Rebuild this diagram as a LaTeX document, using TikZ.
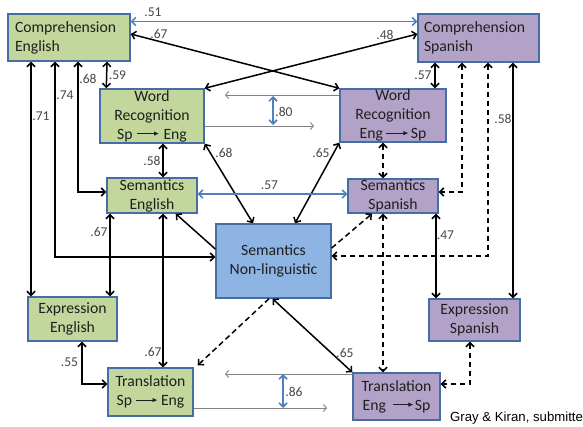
\documentclass[tikz,border=0pt]{standalone}
\usepackage{fontspec}
\setmainfont{Carlito}
\newfontfamily\creditfont{Liberation Sans}
\usetikzlibrary{arrows.meta}

\definecolor{engfill}{RGB}{195,214,155}
\definecolor{spafill}{RGB}{179,162,199}
\definecolor{nlfill}{RGB}{142,180,227}
\definecolor{boxline}{RGB}{68,110,165}
\definecolor{linkblue}{RGB}{79,129,189}
\definecolor{labelgray}{RGB}{70,70,70}
\definecolor{thingray}{RGB}{130,130,130}

% small direction arrow used inside the box titles
\newcommand\dirarrow[1]{\tikz[x=1pt,y=1pt,baseline=-5.5pt]\draw[line width=1pt,-{Latex[length=5pt,width=4.5pt]}] (0,0)--(#1,0);}

\tikzset{
  box/.style={draw=boxline, line width=1.4pt, inner sep=0pt, align=center,
    font=\fontsize{15.7}{19}\selectfont, text=black!88},
  eng/.style={box, fill=engfill},
  spa/.style={box, fill=spafill},
  link/.style={line width=1.5pt, draw=black},
  dlink/.style={link, dash pattern=on 5.5pt off 3.5pt},
  blink/.style={line width=1.6pt, draw=linkblue},
  glink/.style={line width=0.9pt, draw=thingray, >={Straight Barb[length=3pt,width=7pt]}},
  lbl/.style={font=\fontsize{13.5}{15}\selectfont, text=labelgray, inner sep=0pt},
}

\begin{document}
\begin{tikzpicture}[x=1pt, y=-1pt, >={Straight Barb[length=4pt,width=8pt]}]
\useasboundingbox (0,0) rectangle (583,427);
\clip (0,0) rectangle (583,427);
\fill[white] (0,0) rectangle (583,427);

% ---------- boxes ----------
\node[eng, minimum width=122pt, minimum height=47pt, text width=108pt, align=left] (ce) at (69,37.5) {Comprehension\\English};
\node[spa, minimum width=121pt, minimum height=48pt, text width=109pt, align=left] (cs) at (478.5,38) {Comprehension\\Spanish};
\node[eng, minimum width=104pt, minimum height=54pt] (wre) at (152,116) {Word\\Recognition\\Sp\hspace{4pt}\dirarrow{22}\hspace{4pt}Eng};
\node[spa, minimum width=106pt, minimum height=53pt] (wrs) at (393,115.5) {Word\\Recognition\\Eng\hspace{3pt}\dirarrow{22}\hspace{2pt}Sp};
\node[eng, minimum width=90pt, minimum height=35pt] (se) at (152,195.5) {Semantics\\English};
\node[spa, minimum width=90pt, minimum height=34pt] (ss) at (393,196) {Semantics\\Spanish};
\node[box, fill=nlfill, minimum width=115pt, minimum height=74pt] (snl) at (273.5,261) {Semantics\\Non-linguistic};
\node[eng, minimum width=89pt, minimum height=44pt] (ee) at (72.5,319) {Expression\\English};
\node[spa, minimum width=91pt, minimum height=42pt] (es) at (474.5,320) {Expression\\Spanish};
\node[eng, minimum width=85pt, minimum height=48pt] (te) at (150.5,392) {Translation\\Sp\hspace{3pt}\dirarrow{22}\hspace{3pt}Eng};
\node[spa, minimum width=87pt, minimum height=47pt] (ts) at (396.5,396.5) {Translation\\Eng\hspace{7pt}\dirarrow{20}\hspace{1pt}Sp};

% ---------- comprehension links ----------
\draw[blink,<->] ([yshift=16pt]ce.east) -- ([yshift=16.5pt]cs.west);
\draw[link,<->] ([yshift=3.5pt]ce.east) -- (wrs.north west);
\draw[link,<->] (wre.north east) -- ([yshift=4pt]cs.west);
\draw[link,<->] ([xshift=38pt]ce.south) -- ([xshift=7pt]wre.north west);
\draw[link,<->] ([xshift=-38pt]ce.south) -- ([xshift=-41.5pt]ee.north);
\draw[link,<->] ([xshift=-14pt]ce.south) |- ([yshift=4pt]snl.west);
\draw[link,<->] ([xshift=9pt]ce.south) |- ([yshift=3.5pt]se.west);

\draw[link,<->] ([xshift=-43.5pt]cs.south) -- ([xshift=42pt]wrs.north);
\draw[dlink,<->] ([xshift=-16.5pt]cs.south) |- ([yshift=4pt]ss.east);
\draw[dlink,<->] ([xshift=9.5pt]cs.south) |- ([yshift=5pt]snl.east);
\draw[link,<->] ([xshift=34.5pt]cs.south) -- ([xshift=38.5pt]es.north);

% ---------- word recognition ----------
\coordinate (wrl) at (225,95);
\coordinate (wrr) at (314,126);
\coordinate (wbt) at (273,96);
\coordinate (wbb) at (273,125);
\draw[glink,->] (wrs.west |- wrl) -- (wrl);
\draw[glink,->] (wre.east |- wrr) -- (wrr);
\draw[blink,<->] (wbt) -- (wbb);

\draw[link,<->] ([xshift=11pt]wre.south) -- ([xshift=11pt]se.north);
\draw[link,<->] (wre.south east) -- ([xshift=-20.5pt]snl.north);
\draw[link,<->] (wrs.south west) -- ([xshift=21.5pt]snl.north);
\draw[dlink,<->] ([xshift=-10pt]wrs.south) -- ([xshift=-10pt]ss.north);

% ---------- semantics ----------
\draw[blink,<->] ([yshift=1.5pt]se.east) -- ([yshift=2pt]ss.west);
\draw[link,->] ([yshift=12pt]snl.west) -- ([xshift=-22pt]se.south east);
\draw[dlink,->] ([yshift=13pt]snl.east) -- ([xshift=-21pt]ss.south);
\draw[link,<->] ([xshift=-42pt]se.south) -- ([xshift=37.5pt]ee.north);
\draw[link,<->] ([xshift=11pt]se.south) -- ([xshift=12.5pt]te.north);
\draw[dlink,<->] ([xshift=-10pt]ss.south) -- ([xshift=-13.5pt]ts.north);
\draw[link,<->] ([xshift=43pt]ss.south) -- ([xshift=-38.5pt]es.north);

\draw[dlink,->] ([xshift=-4.5pt]snl.south) -- ([xshift=4pt,yshift=2pt]te.north east);
\draw[link,<->] ([xshift=-1pt]snl.south) -- (ts.north west);

% ---------- expression and translation ----------
\draw[link,<->] ([xshift=9.5pt]ee.south) |- ([yshift=8pt]te.west);
\draw[dlink,<->] ([xshift=-4.5pt]es.south) |- ([yshift=12.5pt]ts.east);

\coordinate (trl) at (225,374);
\coordinate (trr) at (327,408);
\coordinate (tbt) at (283,374);
\coordinate (tbb) at (283,408);
\draw[glink,->] (ts.west |- trl) -- (trl);
\draw[glink,->] (te.east |- trr) -- (trr);
\draw[blink,<->] (tbt) -- (tbb);

% ---------- weights ----------
\node[lbl] (w51) at (153,12.5) {.51};
\node[lbl] (w67a) at (159,33.5) {.67};
\node[lbl] (w48) at (385,34.5) {.48};
\node[lbl] (w59) at (117.5,75.5) {.59};
\node[lbl] (w68a) at (88,79) {.68};
\node[lbl] (w74) at (65,95) {.74};
\node[lbl] (w71) at (41,116) {.71};
\node[lbl] (w57a) at (423,75.5) {.57};
\node[lbl] (w58a) at (503,119) {.58};
\node[lbl] (w80) at (284,111.5) {.80};
\node[lbl] (w68b) at (224,152.5) {.68};
\node[lbl] (w65a) at (321,152.5) {.65};
\node[lbl] (w58b) at (152,161) {.58};
\node[lbl] (w57b) at (269.5,185) {.57};
\node[lbl] (w67b) at (99,232) {.67};
\node[lbl] (w47) at (445.5,235) {.47};
\node[lbl] (w55) at (69.5,362.5) {.55};
\node[lbl] (w67c) at (153,351.5) {.67};
\node[lbl] (w65b) at (345,352.5) {.65};
\node[lbl] (w86) at (294,392) {.86};

\node[anchor=west, inner sep=0pt, font=\creditfont\fontsize{13.2}{15}\selectfont] (credit) at (450,418) {Gray \& Kiran, submitted};
\end{tikzpicture}
\end{document}
